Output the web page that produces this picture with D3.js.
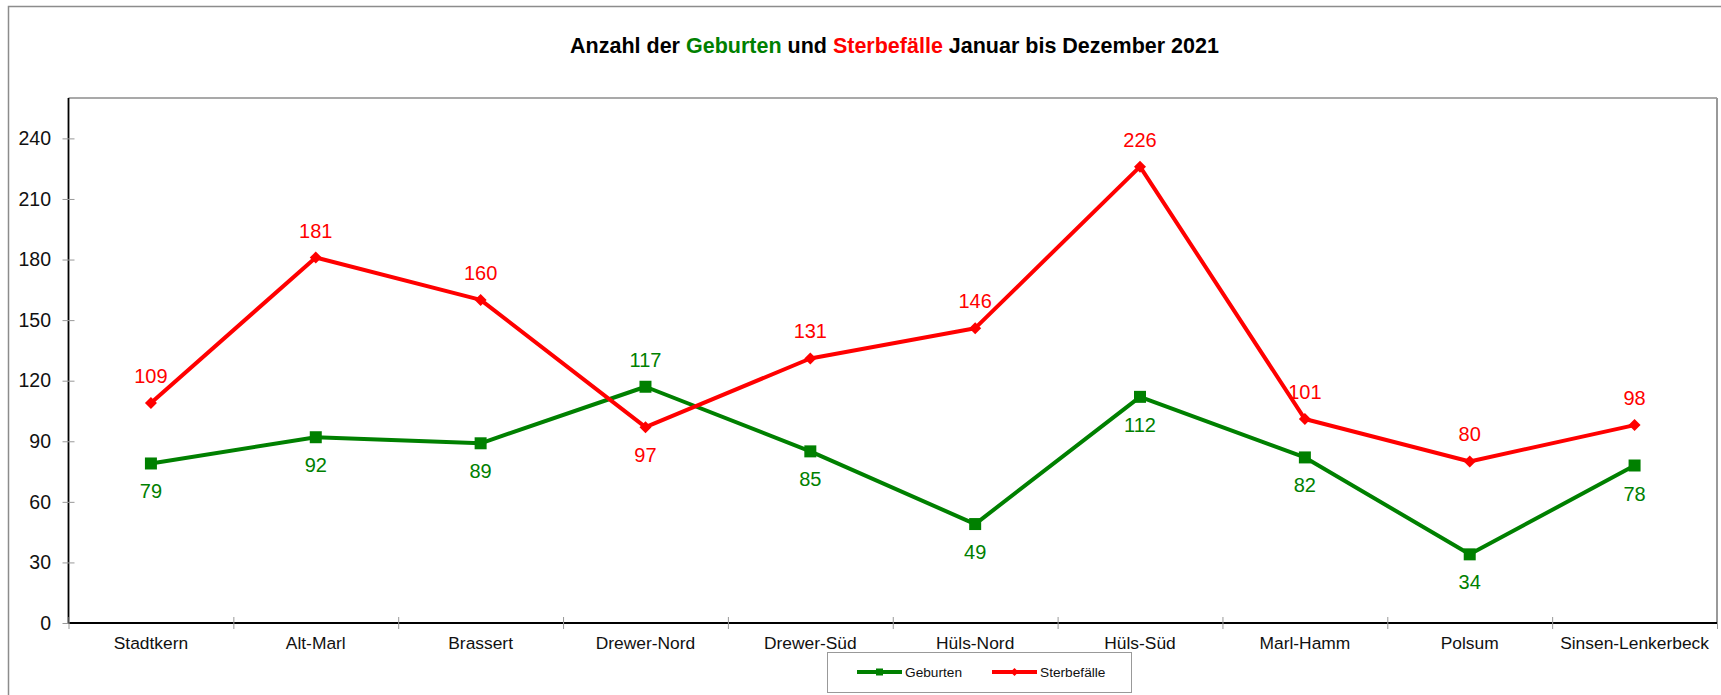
<!DOCTYPE html>
<html>
<head>
<meta charset="utf-8">
<script src="https://cdn.jsdelivr.net/npm/d3@7"></script>
<style>
  body { margin: 0; background: #fff; }
  svg { display: block; font-family: "Liberation Sans", Arial, sans-serif; }
</style>
</head>
<body>
<div id="chart"></div>
<script>
const categories = ["Stadtkern", "Alt-Marl", "Brassert", "Drewer-Nord", "Drewer-Süd",
    "Hüls-Nord", "Hüls-Süd", "Marl-Hamm", "Polsum", "Sinsen-Lenkerbeck"];
const geburten = [79, 92, 89, 117, 85, 49, 112, 82, 34, 78];
const sterbefaelle = [109, 181, 160, 97, 131, 146, 226, 101, 80, 98];
const yTicks = [0, 30, 60, 90, 120, 150, 180, 210, 240];

const width = 1721;
const height = 695;
const plotLeft = 68.5, plotRight = 1717, plotTop = 98, plotBottom = 623;

const green = "#008000";
const red = "#ff0000";

const svg = d3.select("#chart")
    .append("svg")
    .attr("width", width)
    .attr("height", height);

// outer frame (runs off the right and bottom edge)
svg.append("rect")
    .attr("x", 8.5).attr("y", 6.5)
    .attr("width", 1800).attr("height", 800)
    .attr("fill", "none")
    .attr("stroke", "#8c8c8c")
    .attr("stroke-width", 1.5);

// title
const title = svg.append("text")
    .attr("x", 894.5)
    .attr("y", 53)
    .attr("text-anchor", "middle")
    .attr("font-size", "21.5px")
    .attr("font-weight", "bold");
title.append("tspan").text("Anzahl der ");
title.append("tspan").attr("fill", green).text("Geburten");
title.append("tspan").text(" und ");
title.append("tspan").attr("fill", red).text("Sterbefälle");
title.append("tspan").text(" Januar bis Dezember 2021");

const x = d3.scaleBand()
    .domain(categories)
    .range([plotLeft, plotRight]);

const xEdge = d3.scaleLinear()
    .domain([0, categories.length])
    .range([plotLeft, plotRight]);

const y = d3.scaleLinear()
    .domain([0, 260])
    .range([plotBottom, plotTop]);

// plot area frame
svg.append("line")
    .attr("x1", plotLeft).attr("x2", plotRight)
    .attr("y1", plotTop).attr("y2", plotTop)
    .attr("stroke", "#8c8c8c").attr("stroke-width", 1.5);
svg.append("line")
    .attr("x1", plotRight).attr("x2", plotRight)
    .attr("y1", plotTop).attr("y2", plotBottom)
    .attr("stroke", "#999").attr("stroke-width", 2);

// y axis
const yAxis = svg.append("g")
    .attr("transform", `translate(${plotLeft},0)`)
    .call(d3.axisLeft(y).tickValues(yTicks).tickSize(6).tickPadding(11.5));
yAxis.select(".domain").attr("stroke", "#000").attr("stroke-width", 1.8)
    .attr("d", `M0,${plotTop}V${plotBottom}`);
yAxis.selectAll(".tick line").attr("x1", 6).attr("x2", -6).attr("stroke", "#999");
yAxis.selectAll(".tick text")
    .attr("font-size", "19.5px")
    .attr("font-family", "Liberation Sans, Arial, sans-serif")
    .attr("fill", "#111");

// x axis: labels centered, ticks on category edges
const xAxis = svg.append("g")
    .attr("transform", `translate(0,${plotBottom})`)
    .call(d3.axisBottom(x).tickSize(0).tickPadding(13.5));
xAxis.select(".domain").remove();
xAxis.selectAll(".tick text")
    .attr("font-size", "17.4px")
    .attr("font-family", "Liberation Sans, Arial, sans-serif")
    .attr("fill", "#111");

const xTicks = svg.append("g")
    .attr("transform", `translate(0,${plotBottom})`)
    .call(d3.axisBottom(xEdge).tickValues(d3.range(categories.length + 1)).tickFormat("").tickSize(6));
xTicks.select(".domain").attr("stroke", "#000").attr("stroke-width", 1.8)
    .attr("d", `M${plotLeft},0H${plotRight}`);
xTicks.selectAll(".tick line").attr("y1", -6).attr("y2", 6).attr("stroke", "#999");

const line = d3.line()
    .x((d, i) => x(categories[i]) + x.bandwidth() / 2)
    .y(d => y(d));

const series = [
    { name: "Geburten", values: geburten, other: sterbefaelle, color: green, marker: "square" },
    { name: "Sterbefälle", values: sterbefaelle, other: geburten, color: red, marker: "diamond" }
];

function markerPath(type, s) {
    if (type === "square") {
        return `M${-s / 2},${-s / 2}h${s}v${s}h${-s}Z`;
    }
    return `M0,${-s / 2}L${s / 2},0L0,${s / 2}L${-s / 2},0Z`;
}

series.forEach(s => {
    svg.append("path")
        .datum(s.values)
        .attr("fill", "none")
        .attr("stroke", s.color)
        .attr("stroke-width", 4)
        .attr("stroke-linejoin", "round")
        .attr("d", line);
});

series.forEach(s => {
    svg.selectAll(null)
        .data(s.values)
        .enter().append("path")
        .attr("transform", (d, i) => `translate(${x(categories[i]) + x.bandwidth() / 2},${y(d)})`)
        .attr("d", markerPath(s.marker, 12))
        .attr("fill", s.color);

    svg.selectAll(null)
        .data(s.values)
        .enter().append("text")
        .attr("x", (d, i) => x(categories[i]) + x.bandwidth() / 2)
        .attr("y", (d, i) => d >= s.other[i] ? y(d) - 20 : y(d) + 35)
        .attr("text-anchor", "middle")
        .attr("font-size", "20px")
        .attr("fill", s.color)
        .text(d => d);
});

// legend
const legend = svg.append("g");
legend.append("rect")
    .attr("x", 827.5).attr("y", 652.5)
    .attr("width", 304).attr("height", 40)
    .attr("fill", "#fff")
    .attr("stroke", "#999")
    .attr("stroke-width", 1);

const legendX = [857, 992];
series.forEach((s, i) => {
    const g = legend.append("g").attr("transform", `translate(${legendX[i]},672)`);
    g.append("line")
        .attr("x1", 0).attr("x2", 45)
        .attr("stroke", s.color)
        .attr("stroke-width", 4);
    g.append("path")
        .attr("transform", "translate(22.5,0)")
        .attr("d", markerPath(s.marker, s.marker === "square" ? 7 : 8))
        .attr("fill", s.color);
    g.append("text")
        .attr("x", 48)
        .attr("y", 5)
        .attr("font-size", "13.7px")
        .attr("fill", "#111")
        .text(s.name);
});
</script>
</body>
</html>
